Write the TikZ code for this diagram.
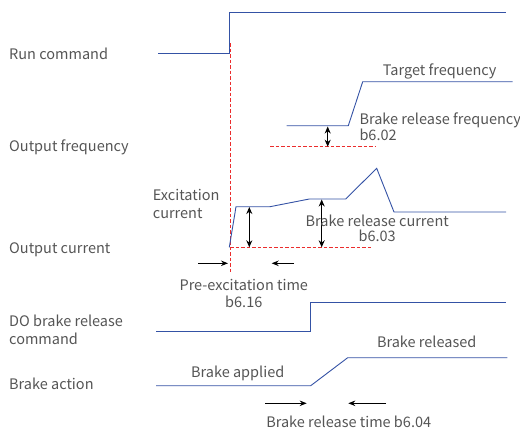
\documentclass[tikz,border=0pt]{standalone}
\usepackage{fontspec}
\setmainfont{Noto Sans CJK SC}
\usetikzlibrary{arrows.meta}
\definecolor{sigblue}{RGB}{52,82,165}
\definecolor{refred}{RGB}{235,45,45}
\definecolor{txtgray}{RGB}{85,85,85}
\begin{document}
\begin{tikzpicture}[x=1pt,y=-1pt,
  sig/.style={draw=sigblue, line width=0.9pt, line join=miter},
  refline/.style={draw=refred, line width=0.9pt, dash pattern=on 3.5pt off 2pt},
  lbl/.style={text=txtgray, font=\fontsize{14.5}{16}\selectfont, inner sep=0pt},
  dimarrow/.style={{Stealth[length=7pt,width=6pt]}-{Stealth[length=7pt,width=6pt]}, line width=1pt, black},
  onearrow/.style={-{Stealth[length=7pt,width=5.5pt]}, line width=1pt, black}]
\useasboundingbox (0,0) rectangle (520,432);

% left labels
\node[lbl, anchor=base west] (lrun) at (9,59.3) {Run command};
\node[lbl, anchor=base west] (lfreq) at (9,151.7) {Output frequency};
\node[lbl, anchor=base west] (lcur) at (9,253.3) {Output current};
\node[lbl, anchor=base west] (ldo1) at (9,326) {DO brake release};
\node[lbl, anchor=base west] (ldo2) at (9,344.3) {command};
\node[lbl, anchor=base west] (lbrk) at (9,389.3) {Brake action};

% run command
\draw[sig] (158,53.3) -- (229.5,53.3) -- (229.5,12) -- (506,12);

% red vertical
\draw[refline] (230,43) -- (230,273);

% output frequency
\draw[sig] (286.7,125.7) -- (348.3,125.7) -- (362.7,81.7) -- (512.7,81.7);
\draw[refline] (270,146.7) -- (376,146.7);
\coordinate (fa) at (327.7,126.5);
\coordinate (fb) at (327.7,146.7);
\draw[dimarrow] (fa) -- (fb);
\node[lbl, anchor=base west] (ttarget) at (382.7,75) {Target frequency};
\node[lbl, anchor=base west] (tbrf) at (359.3,124) {Brake release frequency};
\node[lbl, anchor=base west] (tb602) at (359.3,140) {b6.02};

% output current
\draw[sig] (229.3,247.3) -- (236,206.7) -- (270,206.7) -- (309.3,199) -- (345.7,199)
  -- (376.7,168.3) -- (394,212) -- (506,212);
\draw[refline] (230,247.3) -- (372.7,247.3);
\coordinate (ca1) at (249.3,207);
\coordinate (cb1) at (249.3,247.3);
\draw[dimarrow] (ca1) -- (cb1);
\coordinate (ca2) at (321.7,199.5);
\coordinate (cb2) at (321.7,247.3);
\draw[dimarrow] (ca2) -- (cb2);
\node[lbl, anchor=base west] (texc1) at (152.7,200.7) {Excitation};
\node[lbl, anchor=base west] (texc2) at (152.7,218.3) {current};
\node[lbl, anchor=base] (tbrc) at (377.2,226.7) {Brake release current};
\node[lbl, anchor=base] (tb603) at (377.2,241.7) {b6.03};

% pre-excitation arrows
\coordinate (pe1s) at (198.3,263.3);
\coordinate (pe1e) at (228,263.3);
\draw[onearrow] (pe1s) -- (pe1e);
\coordinate (pe2s) at (294,263.3);
\coordinate (pe2e) at (271.7,263.3);
\draw[onearrow] (pe2s) -- (pe2e);
\node[lbl, anchor=base] (tpre) at (243.8,290) {Pre-excitation time};
\node[lbl, anchor=base] (tb616) at (243.8,307.3) {b6.16};

% DO brake release command
\draw[sig] (156,331) -- (310,331) -- (310,302) -- (506,302);

% brake action
\draw[sig] (156,385.7) -- (310.7,385.7) -- (347.7,357.7) -- (507.3,357.7);
\node[lbl, anchor=base] (tapp) at (237.7,377.3) {Brake applied};
\node[lbl, anchor=base] (trel) at (426.7,347.3) {Brake released};

% brake release time arrows
\coordinate (bt1s) at (265,403.3);
\coordinate (bt1e) at (306.7,403.3);
\draw[onearrow] (bt1s) -- (bt1e);
\coordinate (bt2s) at (386,403.3);
\coordinate (bt2e) at (348.3,403.3);
\draw[onearrow] (bt2s) -- (bt2e);
\node[lbl, anchor=base] (tbrt) at (348.7,427.7) {Brake release time b6.04};
\end{tikzpicture}
\end{document}
